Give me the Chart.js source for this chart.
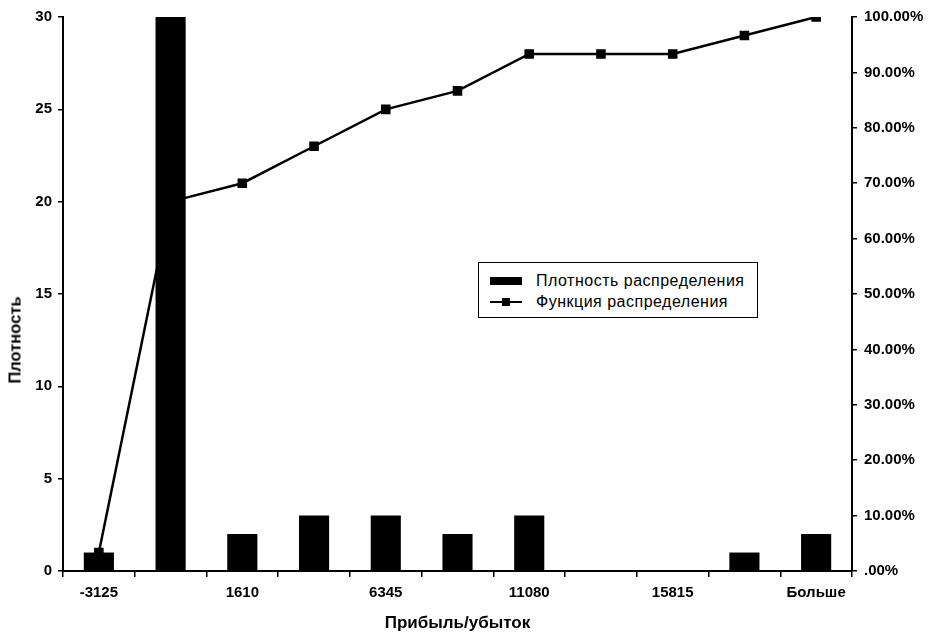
<!DOCTYPE html>
<html>
<head>
<meta charset="utf-8">
<script src="https://cdn.jsdelivr.net/npm/chart.js@4.4.1/dist/chart.umd.min.js"></script>
<style>
  body { margin: 0; background: #fff; }
  #wrap { position: relative; width: 931px; height: 634px; }
  #yTitle {
    position: absolute; left: 15px; top: 340px;
    transform: translate(-50%, -50%) rotate(-90deg);
    font: bold 16.5px 'Liberation Sans', Arial, sans-serif; white-space: nowrap;
  }
  #legend {
    position: absolute; left: 478px; top: 262px; width: 280px; height: 56px;
    box-sizing: border-box; border: 1.5px solid #000; background: #fff;
    font: 16px 'Liberation Sans', Arial, sans-serif; letter-spacing: 0.5px; padding-top: 7px;
  }
  .row { display: flex; align-items: center; height: 21px; }
  .sw { position: relative; width: 32px; height: 21px; margin: 0 14px 0 11px; }
  .bar { position: absolute; left: 0; top: 7px; width: 32px; height: 8px; background: #000; }
  .ln { position: absolute; left: 0; top: 10px; width: 32px; height: 2px; background: #000; }
  .mk { position: absolute; left: 12px; top: 7px; width: 8px; height: 8px; background: #000; }
</style>
</head>
<body>
<div id="wrap">
  <canvas id="myChart" width="931" height="634"></canvas>
  <div id="yTitle">Плотность</div>
  <div id="legend"></div>
</div>
<script>
const categories = ['-3125', '-757.5', '1610', '3977.5', '6345', '8712.5', '11080', '13447.5', '15815', '18182.5', 'Больше'];
const density = [1, 30, 2, 3, 3, 2, 3, 0, 0, 1, 2];
const cumulative = [3.33, 66.67, 70, 76.67, 83.33, 86.67, 93.33, 93.33, 93.33, 96.67, 100];
const seriesNames = ['Плотность распределения', 'Функция распределения'];
const xTitle = 'Прибыль/убыток';

const tickFont = { family: "'Liberation Sans', Arial, sans-serif", size: 15, weight: 'bold' };
const titleFont = { family: "'Liberation Sans', Arial, sans-serif", size: 17, weight: 'bold' };

// legend in the plot, like the original
const legend = document.getElementById('legend');
legend.innerHTML =
  `<div class="row"><div class="sw"><div class="bar"></div></div>${seriesNames[0]}</div>` +
  `<div class="row"><div class="sw"><div class="ln"></div><div class="mk"></div></div>${seriesNames[1]}</div>`;

const ctx = document.getElementById('myChart');
new Chart(ctx, {
  type: 'bar',
  data: {
    labels: categories,
    datasets: [{
      type: 'bar',
      label: seriesNames[0],
      data: density,
      backgroundColor: '#000',
      barPercentage: 0.42,
      categoryPercentage: 1,
      yAxisID: 'y',
      order: 0
    }, {
      type: 'line',
      label: seriesNames[1],
      data: cumulative,
      borderColor: '#000',
      backgroundColor: '#000',
      borderWidth: 2.5,
      pointStyle: 'rect',
      pointRadius: 5,
      tension: 0,
      yAxisID: 'y1',
      order: 1
    }]
  },
  options: {
    responsive: false,
    animation: false,
    layout: { padding: { top: 17, left: 0, right: 0, bottom: 0 } },
    plugins: { legend: { display: false }, tooltip: { enabled: false } },
    scales: {
      x: {
        offset: true,
        grid: { offset: true, drawOnChartArea: false, tickLength: 6, color: '#000', lineWidth: 1.5 },
        border: { color: '#000', width: 2 },
        ticks: {
          autoSkip: false, maxRotation: 0, padding: 7, color: '#000', font: tickFont,
          callback: (v, i) => (i % 2 === 0 ? categories[i] : '')
        },
        title: { display: true, text: xTitle, color: '#000', font: titleFont, padding: { top: 2, bottom: 0 } },
        afterFit: s => { s.height = 63; }
      },
      y: {
        position: 'left',
        min: 0,
        max: 30,
        grid: { drawOnChartArea: false, tickLength: 5, color: '#000', lineWidth: 1.5 },
        border: { color: '#000', width: 2 },
        ticks: { stepSize: 5, padding: 6, color: '#000', font: tickFont },
        afterFit: s => { s.width = 63; }
      },
      y1: {
        position: 'right',
        min: 0,
        max: 100,
        grid: { drawOnChartArea: false, tickLength: 5, color: '#000', lineWidth: 1.5 },
        border: { color: '#000', width: 2 },
        ticks: {
          stepSize: 10, padding: 7, color: '#000', font: tickFont,
          callback: v => (v === 0 ? '.00%' : v.toFixed(2) + '%')
        },
        afterFit: s => { s.width = 79; }
      }
    }
  }
});
</script>
</body>
</html>
